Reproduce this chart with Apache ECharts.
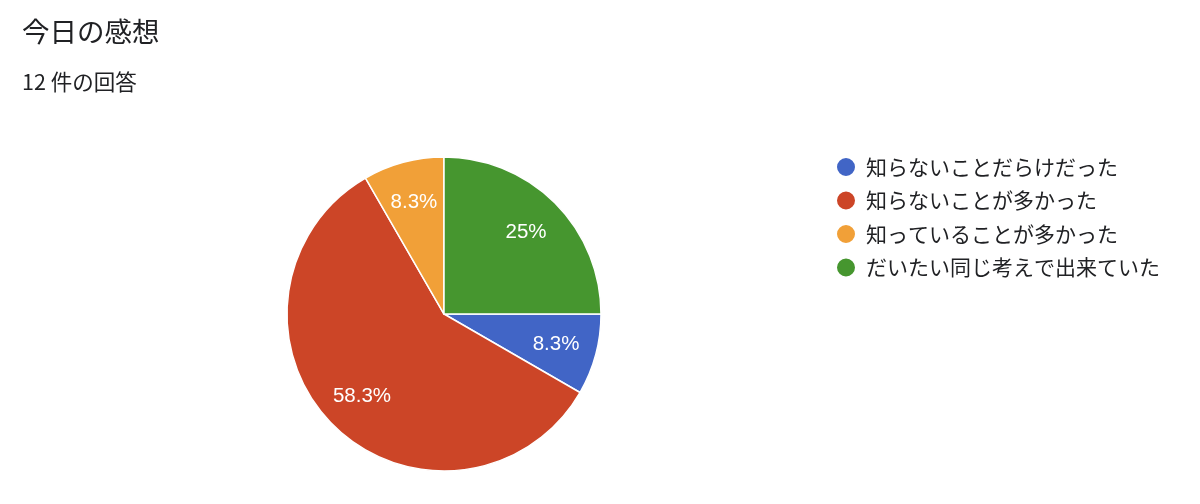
<!DOCTYPE html>
<html>
<head>
<meta charset="utf-8">
<script src="https://cdn.jsdelivr.net/npm/echarts@6/dist/echarts.min.js"></script>
<style>
html,body{margin:0;padding:0;background:#fff;}
#chart{width:1200px;height:504px;}
</style>
</head>
<body>
<div id="chart"></div>
<script>
const titleText = '今日の感想';
const subtitleText = '12 件の回答';
const categories = ['知らないことだらけだった', '知らないことが多かった', '知っていることが多かった', 'だいたい同じ考えで出来ていた'];
const counts = [1, 7, 1, 3];
const colors = ['#4165c6', '#cc4527', '#f1a038', '#46962f'];

const jp = '"Noto Sans CJK JP", "Noto Sans", sans-serif';
const pieData = categories.map((c, i) => ({ name: c, value: counts[i] }));
const total = counts.reduce((a, b) => a + b, 0);
function pct(v) {
  let s = (v / total * 100).toFixed(1);
  if (s.endsWith('.0')) s = s.slice(0, -2);
  return s + '%';
}

const chart = echarts.init(document.getElementById('chart'));
chart.setOption({
  backgroundColor: '#ffffff',
  animation: false,
  color: colors,
  title: [
    { text: titleText, left: 22, top: 18, padding: 0, textStyle: { fontFamily: jp, fontSize: 27.5, fontWeight: 'normal', color: '#202124' } },
    { text: subtitleText, left: 22, top: 71, padding: 0, textStyle: { fontFamily: jp, fontSize: 21.5, fontWeight: 'normal', color: '#202124' } }
  ],
  legend: {
    orient: 'vertical',
    left: 835,
    top: 156,
    padding: 0,
    icon: 'circle',
    itemWidth: 20,
    itemHeight: 20,
    itemGap: 11.5,
    data: categories,
    selectedMode: false,
    textStyle: { fontFamily: jp, fontSize: 21, lineHeight: 22, color: '#202124', padding: [0, 0, 0, 5] }
  },
  series: [
    {
      type: 'pie',
      center: [444, 314],
      radius: 157,
      startAngle: 0,
      clockwise: true,
      silent: true,
      label: { show: false },
      labelLine: { show: false },
      itemStyle: { borderColor: '#ffffff', borderWidth: 1.5 },
      data: pieData
    },
    {
      type: 'pie',
      center: [444, 314],
      radius: [69, 157],
      startAngle: 0,
      clockwise: true,
      silent: true,
      itemStyle: { color: 'rgba(0,0,0,0)', borderWidth: 0 },
      label: {
        show: true,
        position: 'inside',
        formatter: p => pct(p.value),
        color: '#ffffff',
        fontFamily: '"Liberation Sans", Arial, sans-serif',
        fontSize: 20.5
      },
      labelLine: { show: false },
      data: pieData
    }
  ]
});
</script>
</body>
</html>
